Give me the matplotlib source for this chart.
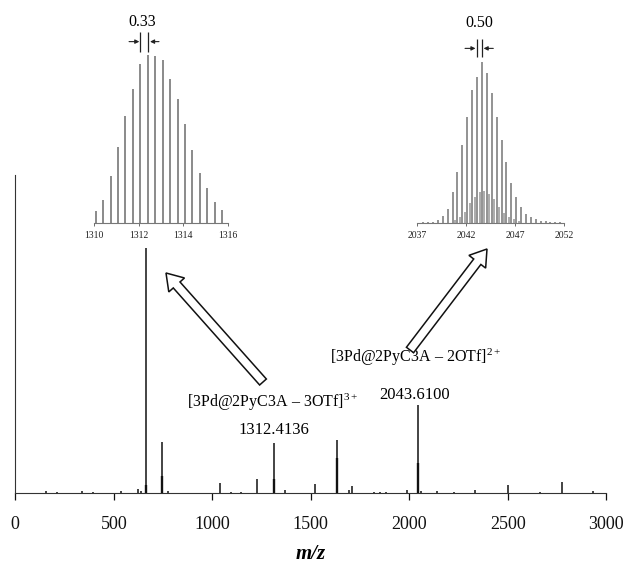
import matplotlib.pyplot as plt
from matplotlib.patches import FancyArrow

plt.rcParams['font.family'] = ['Liberation Serif', 'DejaVu Serif']
plt.rcParams['mathtext.fontset'] = 'custom'
plt.rcParams['mathtext.rm'] = 'Liberation Serif'
plt.rcParams['mathtext.it'] = 'Liberation Serif:italic'
plt.rcParams['mathtext.bf'] = 'Liberation Serif:bold'

# --------------------------------------------------
# ------------- full spectrum (rel. int.) ----------
# --------------------------------------------------
mz_full = [154, 211, 337, 396, 535, 621, 637, 664, 743, 775, 1039, 1096,
           1147, 1225, 1312.4, 1369, 1521, 1631, 1695, 1709, 1820, 1850,
           1880, 1987, 2043.6, 2059, 2139, 2227, 2335, 2499, 2663, 2773, 2931]
int_full = [0.8, 0.4, 0.6, 0.4, 0.8, 1.4, 0.6, 100, 20.5, 0.8, 3.8, 0.4,
            0.4, 5.5, 20.2, 1.1, 3.4, 21.6, 1.2, 2.5, 0.4, 0.4,
            0.4, 1.2, 35.7, 0.5, 0.8, 0.4, 1.1, 3.2, 0.4, 4.2, 0.8]
# unresolved isotope envelopes (thicker base of the big peaks)
mz_env = [664, 743, 1312.4, 1631, 2043.6]
int_env = [3.2, 6.6, 5.7, 14.0, 12.0]

# --------------------------------------------------
# ------------- isotope pattern 3+ (inset) ---------
# --------------------------------------------------
mz_3p = [1310.08, 1310.41, 1310.75, 1311.08, 1311.41, 1311.75, 1312.08,
         1312.41, 1312.75, 1313.08, 1313.41, 1313.75, 1314.08, 1314.41,
         1314.75, 1315.08, 1315.41, 1315.75]
int_3p = [7.1, 13.5, 27.7, 45.1, 63.4, 79.8, 94.7, 100, 99.6, 97.0, 85.7,
          73.5, 58.6, 43.6, 29.9, 20.4, 12.1, 7.5]

# --------------------------------------------------
# ------------- isotope pattern 2+ (inset) ---------
# --------------------------------------------------
mz_2p = [2037.61, 2038.11, 2038.61, 2039.11, 2039.61, 2040.11, 2040.61,
         2041.11, 2041.61, 2042.11, 2042.61, 2043.11, 2043.61, 2044.11,
         2044.61, 2045.11, 2045.61, 2046.11, 2046.61, 2047.11, 2047.61,
         2048.11, 2048.61, 2049.11, 2049.61, 2050.11, 2050.61, 2051.11,
         2051.61]
int_2p = [0.2, 0.4, 0.6, 1.7, 4.1, 8.7, 19.0, 31.7, 48.0, 65.8, 82.4, 90.3,
          100, 93.2, 80.7, 65.4, 51.3, 37.9, 24.8, 16.1, 9.9, 5.4, 3.3, 2.1,
          1.2, 0.8, 0.6, 0.4, 0.4]
# overlapping minor species (half-step positions)
mz_2p_b = [2040.86, 2041.36, 2041.86, 2042.36, 2042.86, 2043.36, 2043.86,
           2044.36, 2044.86, 2045.36, 2045.86, 2046.36, 2046.86, 2047.36]
int_2p_b = [1.7, 3.7, 6.8, 12.4, 16.1, 19.3, 19.9, 17.8, 14.5, 9.9, 6.2,
            3.7, 2.1, 1.0]

ticks_main = [0, 500, 1000, 1500, 2000, 2500, 3000]
ticks_3p = [1310, 1312, 1314, 1316]
ticks_2p = [2037, 2042, 2047, 2052]

W, H = 629, 566
fig = plt.figure(figsize=(W / 100, H / 100), dpi=100)

# ---------------- main spectrum ----------------
ax = fig.add_axes([15.3 / W, (H - 492.5) / H, 591 / W, 317.5 / H])
ax.vlines(mz_full, 0, int_full, color='#111111', lw=1.1)
ax.vlines(mz_env, 0, int_env, color='#111111', lw=1.7)
ax.set_xlim(0, 3000)
ax.set_ylim(0, 130.1)
for s in ['top', 'right']:
    ax.spines[s].set_visible(False)
ax.spines['left'].set_color('#333333')
ax.spines['bottom'].set_color('#333333')
ax.set_yticks([])
ax.set_xticks(ticks_main)
ax.tick_params(axis='x', direction='out', length=5, width=0.9,
               labelsize=13, pad=12, colors='#111111')
ax.set_xlabel('m/z', fontsize=15, fontstyle='italic', fontweight='bold',
              labelpad=8)

ax.text(1308, 35.2, r'[3Pd@2PyC3A – 3OTf]$^{3+}$', ha='center',
        va='baseline', fontsize=11.5)
ax.text(1312.4, 24.0, '1312.4136', ha='center', va='baseline', fontsize=12)
ax.text(2034, 53.6, r'[3Pd@2PyC3A – 2OTf]$^{2+}$', ha='center',
        va='baseline', fontsize=11.5)
ax.text(2028, 38.3, '2043.6100', ha='center', va='baseline', fontsize=12)


def style_inset(a, ticks):
    for s in ['top', 'right', 'left']:
        a.spines[s].set_visible(False)
    a.spines['bottom'].set_color('#777777')
    a.spines['bottom'].set_linewidth(0.8)
    a.set_yticks([])
    a.set_xticks(ticks)
    a.tick_params(axis='x', direction='out', length=2, width=0.6,
                  labelsize=7, pad=4, colors='#555555', labelcolor='#222222')
    a.patch.set_alpha(0)


# ---------------- inset 3+ ----------------
ax3 = fig.add_axes([94 / W, (H - 222.7) / H, 134 / W, 172.7 / H])
ax3.vlines(mz_3p, 0, int_3p, color='#8a8a8a', lw=1.4)
ax3.set_xlim(1310, 1316)
ax3.set_ylim(0, 103)
style_inset(ax3, ticks_3p)
ax3.vlines([mz_3p[6], mz_3p[7]], 102, 113.9, color='#222222', lw=0.9,
           clip_on=False)
ax3.annotate('', xy=(1312.03, 108), xytext=(1311.57, 108),
             arrowprops=dict(arrowstyle='-|>', color='#222222', lw=0.8,
                             mutation_scale=6, shrinkA=0, shrinkB=0),
             annotation_clip=False)
ax3.annotate('', xy=(1312.51, 108), xytext=(1312.91, 108),
             arrowprops=dict(arrowstyle='-|>', color='#222222', lw=0.8,
                             mutation_scale=6, shrinkA=0, shrinkB=0),
             annotation_clip=False)
ax3.text(1312.15, 119.9, '0.33', ha='center', va='center', fontsize=11.5,
         clip_on=False)

# ---------------- inset 2+ ----------------
ax2 = fig.add_axes([417.3 / W, (H - 222.7) / H, 146.7 / W, 172.7 / H])
ax2.vlines(mz_2p, 0, int_2p, color='#8a8a8a', lw=1.3)
ax2.vlines(mz_2p_b, 0, int_2p_b, color='#a5a5a5', lw=1.3)
ax2.set_xlim(2037, 2052)
ax2.set_ylim(0, 107.3)
style_inset(ax2, ticks_2p)
ax2.vlines([mz_2p[11], mz_2p[12]], 102.7, 113.9, color='#222222', lw=0.9,
           clip_on=False)
ax2.annotate('', xy=(2042.95, 108.3), xytext=(2041.88, 108.3),
             arrowprops=dict(arrowstyle='-|>', color='#222222', lw=0.8,
                             mutation_scale=6, shrinkA=0, shrinkB=0),
             annotation_clip=False)
ax2.annotate('', xy=(2043.78, 108.3), xytext=(2044.77, 108.3),
             arrowprops=dict(arrowstyle='-|>', color='#222222', lw=0.8,
                             mutation_scale=6, shrinkA=0, shrinkB=0),
             annotation_clip=False)
ax2.text(2043.3, 124.2, '0.50', ha='center', va='center', fontsize=11.5,
         clip_on=False)

# ---------------- hollow arrows (figure pixels) ----------------
ov = fig.add_axes([0, 0, 1, 1], zorder=5)
ov.set_xlim(0, W)
ov.set_ylim(H, 0)
ov.axis('off')
ov.patch.set_alpha(0)
ov.add_patch(FancyArrow(263, 382, -97, -109, width=9, head_width=21,
                        head_length=16, length_includes_head=True,
                        fc='white', ec='#111111', lw=1.1))
ov.add_patch(FancyArrow(410, 350, 77, -101, width=9, head_width=21,
                        head_length=16, length_includes_head=True,
                        fc='white', ec='#111111', lw=1.1))

fig.savefig('out.png', dpi=100)
